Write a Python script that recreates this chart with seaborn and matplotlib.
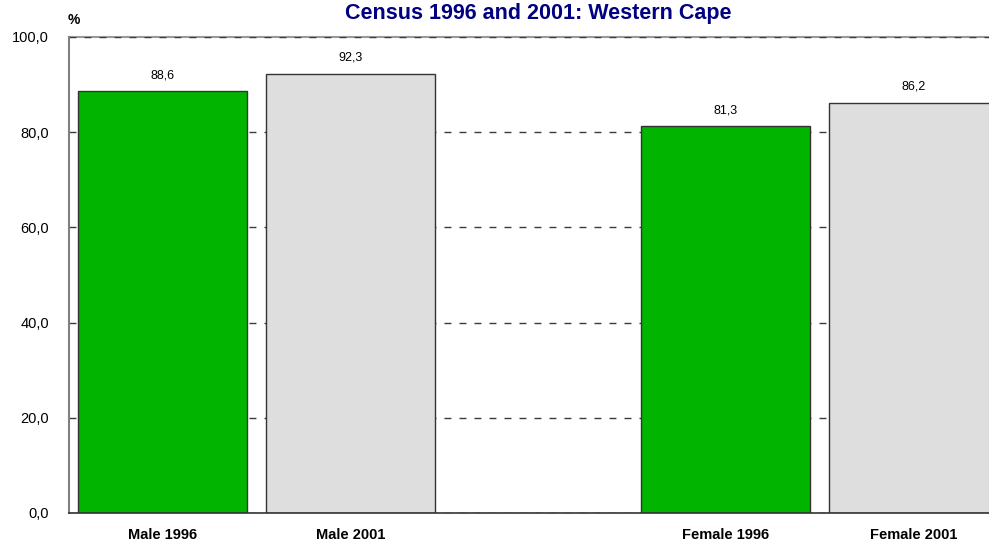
import numpy as np
import pandas as pd
import matplotlib
matplotlib.use("Agg")
import matplotlib.pyplot as plt
import matplotlib as mpl
import seaborn as sns

# data ("" is the empty spacer slot)
categories = ["Male 1996", "Male 2001", "", "Female 1996", "Female 2001"]
years = ["1996", "2001", "", "1996", "2001"]
values = [88.6, 92.3, np.nan, 81.3, 86.2]
yticks = [0, 20, 40, 60, 80, 100]

palette = {"1996": "#00B400", "2001": "#DEDEDE", "": "white"}

sns.set_style("white")
plt.rcParams['font.family'] = ['Liberation Sans', 'DejaVu Sans']
plt.rcParams['text.color'] = 'black'
plt.rcParams['xtick.color'] = 'black'
plt.rcParams['ytick.color'] = 'black'

df = pd.DataFrame({'category': categories, 'year': years, 'value': values})

fig = plt.figure(figsize=(9.89, 5.46), dpi=100)
# axes run slightly past the right edge of the figure, as in the reference
ax = fig.add_axes([69 / 989, 1 - 513 / 546, 938 / 989, 476 / 546])

sns.barplot(data=df, x='category', y='value', hue='year', order=categories,
            hue_order=["1996", "2001", ""], palette=palette, dodge=False,
            saturation=1, width=0.9, edgecolor='#333333', linewidth=1.0,
            legend=False, ax=ax)

def comma(v):
    if np.isnan(v):
        return ""
    return ('%.1f' % v).replace('.', ',')

for cont in ax.containers:
    ax.bar_label(cont, fmt=comma, padding=7, fontsize=9, color='black')

ax.set_ylim(0, 100)
ax.set_xlim(-0.5, 4.5)
ax.set_yticks(yticks)
ax.yaxis.set_major_formatter(mpl.ticker.FuncFormatter(lambda y, pos: comma(y)))
ax.tick_params(axis='y', length=0, pad=14.5, labelsize=10.5)
ax.tick_params(axis='x', length=0, pad=11)
for lab in ax.get_xticklabels():
    lab.set_fontweight('bold')
    lab.set_fontsize(10.5)
ax.set_xlabel('')
ax.set_ylabel('')

# dashed grid behind the bars
ax.set_axisbelow(True)
ax.yaxis.grid(True, linestyle=(0, (5, 5.8)), color='#3a3a3a', linewidth=1.0)
ax.spines['right'].set_visible(False)
ax.spines['top'].set_color('#9a9a9a')
ax.spines['top'].set_linewidth(1.5)
ax.spines['top'].set_zorder(0.3)
ax.spines['left'].set_color('#808080')
ax.spines['left'].set_linewidth(1.5)
ax.spines['bottom'].set_color('#333333')
ax.spines['bottom'].set_linewidth(1.2)

fig.text(538 / 989, 1 - 13.5 / 546, 'Census 1996 and 2001: Western Cape',
         ha='center', va='center', fontsize=15.5, fontweight='bold',
         color='#000080')
fig.text(68 / 989, 1 - 19.5 / 546, '%', ha='left', va='center', fontsize=10,
         fontweight='bold')

fig.savefig('out.png', dpi=100)
